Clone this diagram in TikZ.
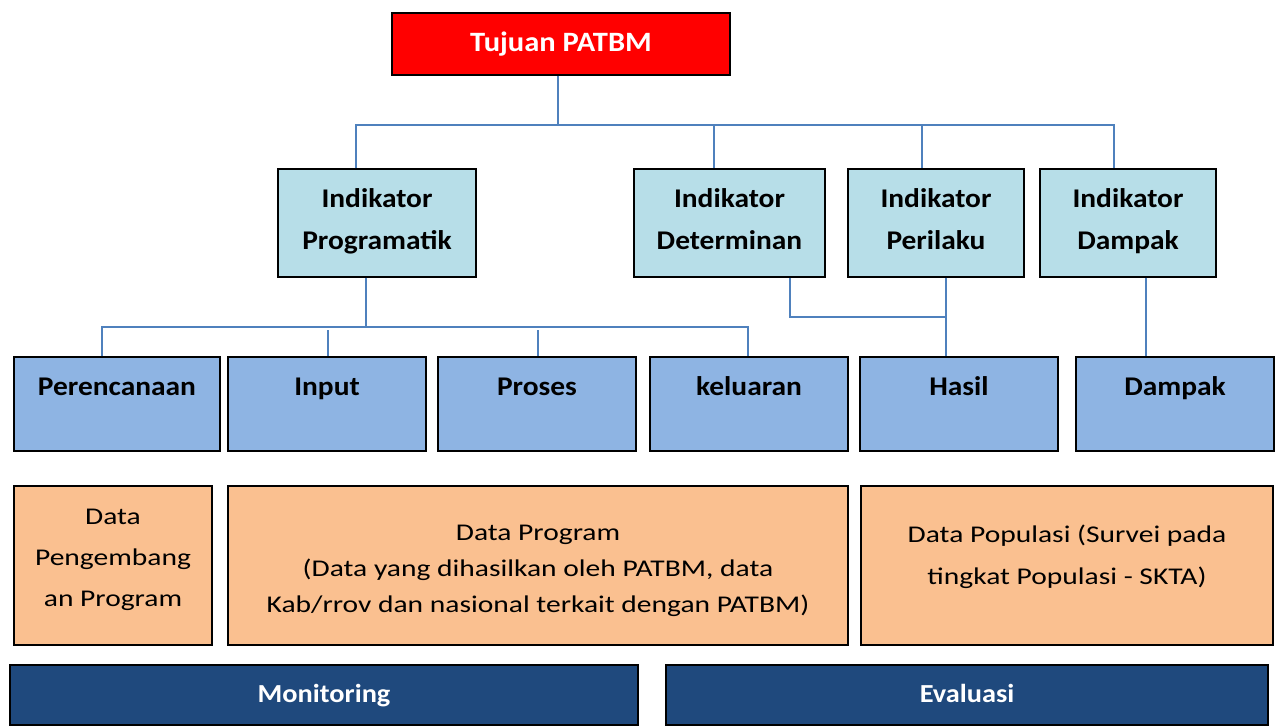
\documentclass[tikz,border=0pt]{standalone}
\usepackage{fontspec}
\setmainfont{Carlito}
\newfontfamily\regfam{Carlito}[FakeStretch=1.23]
\newfontfamily\boldfam{Carlito}[FakeStretch=1.09]
\newcommand{\twolines}[2]{\raisebox{-3.5pt}[42pt][42pt]{\begin{tabular}{@{}c@{}}#1\\#2\end{tabular}}}
\definecolor{goalred}{HTML}{FF0000}
\definecolor{indblue}{HTML}{B7DEE8}
\definecolor{lvlblue}{HTML}{8EB4E3}
\definecolor{dataorange}{HTML}{FAC090}
\definecolor{mondark}{HTML}{1F497D}
\definecolor{linkblue}{HTML}{4F81BD}
\begin{document}
\begin{tikzpicture}[x=1pt,y=-1pt,
  box/.style={draw=black, line width=1.3pt, inner sep=0pt, align=center},
  goal/.style={box, fill=goalred, text=white, font=\boldfam\bfseries\fontsize{28}{32}\selectfont, minimum width=338pt, minimum height=62pt, text height=20pt, text depth=4pt},
  ind/.style={box, fill=indblue, font=\boldfam\bfseries\fontsize{27}{42}\selectfont, minimum height=108pt},
  lvl/.style={box, fill=lvlblue, font=\boldfam\bfseries\fontsize{27}{30}\selectfont, minimum width=198pt, minimum height=94pt, text height=38.5pt, text depth=55.5pt},
  obox/.style={box, fill=dataorange, minimum height=159pt},
  otext/.style={font=\regfam\fontsize{24}{41}\selectfont, align=center, inner sep=0pt},
  mbox/.style={box, fill=mondark, text=white, font=\boldfam\bfseries\fontsize{26}{30}\selectfont, minimum height=60pt, text height=16pt, text depth=1pt},
  link/.style={draw=linkblue, line width=2pt}]
\useasboundingbox (0,0) rectangle (1276,725);

% level 0
\node[goal] (tuj) at (561,44) {Tujuan PATBM};

% level 1
\node[ind, minimum width=198pt] (ip)  at (377,223)   {\twolines{Indikator}{Programatik}};
\node[ind, minimum width=191pt] (idt) at (729.5,223) {\twolines{Indikator}{Determinan}};
\node[ind, minimum width=176pt] (ipr) at (936,223)   {\twolines{Indikator}{Perilaku}};
\node[ind, minimum width=176pt] (idp) at (1128,223)  {\twolines{Indikator}{Dampak}};

% level 2
\node[lvl, minimum width=206pt] (per) at (117,404) {Perencanaan};
\node[lvl] (inp) at (327,404) {Input};
\node[lvl] (pro) at (537,404) {Proses};
\node[lvl] (kel) at (749,404) {keluaran};
\node[lvl] (has) at (959,404) {Hasil};
\node[lvl] (dam) at (1175,404) {Dampak};

% data boxes
\node[obox, minimum width=198pt,
  label={[otext, yshift=6pt]center:Data\\Pengembang\\an Program}] (dpg) at (113,565.5) {};
\node[obox, minimum width=620pt,
  label={[otext, font=\regfam\fontsize{24}{36}\selectfont, yshift=-5pt]center:Data Program\\(Data yang dihasilkan oleh PATBM, data\\Kab/rrov dan nasional terkait dengan PATBM)}] (dpr) at (538,565.5) {};
\node[obox, minimum width=412pt,
  label={[otext, font=\regfam\fontsize{24}{42}\selectfont, yshift=9pt]center:Data Populasi (Survei pada\\tingkat Populasi - SKTA)}] (dpo) at (1067,565.5) {};

% bottom bars
\node[mbox, minimum width=628pt] (mon) at (324,695) {Monitoring};
\node[mbox, minimum width=602pt] (eva) at (967,695) {Evaluasi};

% connectors: goal to indicators
\coordinate (j0) at (558,125);
\coordinate (c1) at (356,125);
\coordinate (c2) at (714,125);
\coordinate (c3) at (922,125);
\coordinate (c4) at (1114,125);
\draw[link] (tuj.south -| j0) -- (j0);
\draw[link] (ip.north -| c1) |- (c4) -- (idp.north -| c4);
\draw[link] (c2) -- (idt.north -| c2);
\draw[link] (c3) -- (ipr.north -| c3);

% programatik to its four outputs
\coordinate (b0) at (366,327);
\coordinate (b1) at (102,327);
\coordinate (b2) at (328,330);
\coordinate (b3) at (538,330);
\coordinate (b4) at (748,327);
\draw[link] (ip.south -| b0) -- (b0);
\draw[link] (per.north -| b1) |- (b4) -- (kel.north -| b4);
\draw[link] (b2) -- (inp.north -| b2);
\draw[link] (b3) -- (pro.north -| b3);

% determinan + perilaku to hasil
\coordinate (d1) at (790,317);
\coordinate (d2) at (946,317);
\draw[link] (idt.south -| d1) |- (d2);
\draw[link] (ipr.south -| d2) -- (has.north -| d2);

% dampak indicator to dampak
\coordinate (e1) at (1146,300);
\draw[link] (idp.south -| e1) -- (dam.north -| e1);
\end{tikzpicture}
\end{document}
